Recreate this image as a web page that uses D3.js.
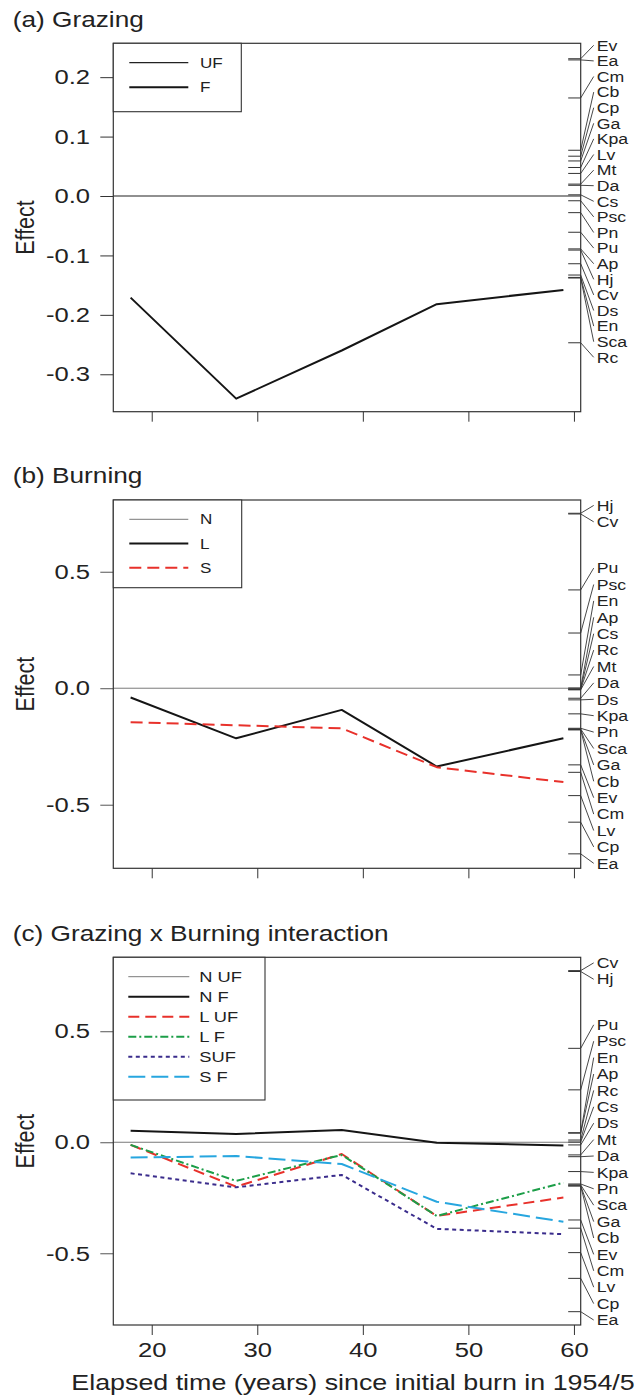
<!DOCTYPE html>
<html><head><meta charset="utf-8">
<script src="https://cdn.jsdelivr.net/npm/d3@7"></script>
<style>
body{margin:0;background:#fff}
svg{display:block}
text{font-family:"Liberation Sans",Arial,Helvetica,sans-serif;fill:#222}
</style>
</head><body><div id="chart"></div>
<script>
// ---------- data ----------
const years = [18, 28, 38, 47, 59];
const xTicks = [20, 30, 40, 50, 60];

// (a) Grazing: UF is the reference level (0)
const grazingF = [-0.171, -0.341, -0.260, -0.182, -0.158];
// (b) Burning: N is the reference level (0)
const burnL = [-0.040, -0.215, -0.093, -0.336, -0.215];
const burnS = [-0.146, -0.159, -0.172, -0.339, -0.403];
// (c) Grazing x Burning: N UF is the reference level (0)
const intNF  = [0.052, 0.037, 0.055, -0.002, -0.015];
const intLUF = [-0.012, -0.200, -0.053, -0.332, -0.249];
const intLF  = [-0.012, -0.174, -0.057, -0.332, -0.182];
const intSUF = [-0.140, -0.203, -0.147, -0.390, -0.414];
const intSF  = [-0.069, -0.062, -0.098, -0.268, -0.358];

// species effects shown on the right-hand side of each panel
const species            = ["Ap","Cb","Cm","Cp","Cs","Cv","Da","Ds","Ea","En","Ev","Ga","Hj","Kpa","Lv","Mt","Pn","Psc","Pu","Rc","Sca"];
const speciesGrazing     = [-0.089, 0.077, 0.165, 0.067, 0.002, -0.114, 0.018, -0.133, 0.229, -0.137, 0.231, 0.059, -0.091, 0.048, 0.038, 0.020, -0.028, -0.008, -0.061, -0.247, -0.138];
const speciesBurning     = [0.001, -0.179, -0.361, -0.575, -0.003, 0.748, -0.043, -0.050, -0.711, 0.057, -0.329, -0.177, 0.751, -0.110, -0.461, -0.007, -0.172, 0.237, 0.422, -0.005, -0.175];
const speciesInteraction = [0.041, -0.197, -0.387, -0.613, 0.001, 0.773, -0.065, -0.012, -0.763, 0.043, -0.350, -0.196, 0.769, -0.132, -0.497, -0.057, -0.188, 0.236, 0.423, 0.010, -0.192];

const yTicksA  = [-0.3, -0.2, -0.1, 0.0, 0.1, 0.2];
const yTicksBC = [-0.5, 0.0, 0.5];

const titles = ["(a) Grazing", "(b) Burning", "(c) Grazing x Burning interaction"];
const xTitle = "Elapsed time (years) since initial burn in 1954/5";
const yTitle = "Effect";

// ---------- layout / styles ----------
const W = 638, H = 1396;
const SX = 1.22; // horizontal stretch of the original figure's text
const left = 113.3, right = 580.7;
const col = {red:"#e8312b", green:"#1c9e48", purple:"#3a2c8c", cyan:"#27a6df", black:"#151515", grey:"#7a7a7a"};

const panels = [
  {top:43.3, bottom:411.7, dom:[-0.363, 0.257], ticks:yTicksA, title:titles[0], sp:speciesGrazing, gap:15.6,
   ref:{label:"UF", color:"#222", w:1.2},
   series:[{label:"F", values:grazingF, color:col.black, w:2, dash:null}],
   legend:{w:128, h:68.4, first:19.4, step:24.6, fs:14, x1:16, x2:75, tx:86.7}, xLabels:false},
  {top:500, bottom:868.3, dom:[-0.773, 0.808], ticks:yTicksBC, title:titles[1], sp:speciesBurning, gap:16.4,
   ref:{label:"N", color:col.grey, w:1},
   series:[{label:"L", values:burnL, color:col.black, w:2, dash:null},
           {label:"S", values:burnS, color:col.red, w:2, dash:"12,6"}],
   legend:{w:128.4, h:87.7, first:19.3, step:24.2, fs:14, x1:16, x2:75, tx:86.7}, xLabels:false},
  {top:957.3, bottom:1325, dom:[-0.823, 0.833], ticks:yTicksBC, title:titles[2], sp:speciesInteraction, gap:16.4,
   ref:{label:"N UF", color:col.grey, w:1},
   series:[{label:"N F", values:intNF, color:col.black, w:2, dash:null},
           {label:"L UF", values:intLUF, color:col.red, w:2, dash:"11,6"},
           {label:"L F", values:intLF, color:col.green, w:2, dash:"8,3,2,3"},
           {label:"SUF", values:intSUF, color:col.purple, w:2, dash:"4,3.5"},
           {label:"S F", values:intSF, color:col.cyan, w:2, dash:"17,6"}],
   legend:{w:151.7, h:142.7, first:19.4, step:20, fs:15, x1:15, x2:76, tx:86}, xLabels:true}
];

const svg = d3.select("#chart").append("svg").attr("width", W).attr("height", H);
svg.append("rect").attr("width", W).attr("height", H).attr("fill", "#fff");

const x = d3.scaleLinear().domain([16.36, 60.64]).range([left, right]);

function stext(g, px, py, str, fs, anchor) {
  return g.append("text")
    .attr("transform", `translate(${px},${py}) scale(${SX},1)`)
    .attr("text-anchor", anchor || "start")
    .style("font-size", fs + "px")
    .text(str);
}

// 1-D label spreading (ordered, minimum gap, least squares, bounded)
function spread(targets, gap, lo, hi) {
  const clusters = [];
  const pos = c => Math.max(lo, Math.min(hi - (c.n - 1) * gap, c.sum / c.n));
  targets.forEach((t, i) => {
    clusters.push({start:i, n:1, sum:t});
    while (clusters.length > 1) {
      const b = clusters[clusters.length - 1], a = clusters[clusters.length - 2];
      if (pos(a) + a.n * gap > pos(b) + 1e-9) {
        a.sum += b.sum - b.n * a.n * gap;
        a.n += b.n;
        clusters.pop();
      } else break;
    }
  });
  const out = [];
  clusters.forEach(c => { const p = pos(c); for (let k = 0; k < c.n; k++) out.push(p + k * gap); });
  return out;
}

panels.forEach((p, pi) => {
  const g = svg.append("g");
  const y = d3.scaleLinear().domain(p.dom).range([p.bottom, p.top]);

  // title
  stext(g, 12.7, p.top - 16.7, p.title, 21.5, "start");

  // y label
  g.append("text")
    .attr("transform", `translate(25,${(p.top + p.bottom) / 2}) scale(${SX},1) rotate(-90)`)
    .attr("text-anchor", "middle").attr("dy", "0.35em")
    .style("font-size", "21.5px").text(yTitle);

  // reference (zero) line
  g.append("line").attr("x1", left).attr("x2", right)
    .attr("y1", y(0)).attr("y2", y(0))
    .attr("stroke", p.ref.color).attr("stroke-width", p.ref.w);

  // data lines
  const line = d3.line().x((d, i) => x(years[i])).y(d => y(d));
  p.series.forEach(s => {
    g.append("path").datum(s.values).attr("d", line)
      .attr("fill", "none").attr("stroke", s.color).attr("stroke-width", s.w)
      .attr("stroke-dasharray", s.dash).attr("stroke-linejoin", "round");
  });

  // y axis
  const ya = g.append("g").attr("transform", `translate(${left},0)`)
    .call(d3.axisLeft(y).tickValues(p.ticks).tickSize(13).tickFormat(d => d.toFixed(1)));
  ya.select(".domain").remove();
  ya.selectAll(".tick line").attr("stroke", p.ref.color === col.grey ? "#555" : "#333");
  ya.selectAll(".tick text").attr("x", -23.3 / SX).attr("transform", `scale(${SX},1)`)
    .style("font-size", "21px").style("font-family", '"Liberation Sans",Arial,sans-serif').attr("fill", "#222");

  // x axis
  const xa = g.append("g").attr("transform", `translate(0,${p.bottom})`)
    .call(d3.axisBottom(x).tickValues(xTicks).tickSize(10).tickFormat(d => p.xLabels ? String(d) : ""));
  xa.select(".domain").remove();
  xa.selectAll(".tick line").attr("stroke", "#333");
  xa.selectAll(".tick text").attr("y", 16.7).attr("transform", `scale(${SX},1)`)
    .style("font-size", "21px").style("font-family", '"Liberation Sans",Arial,sans-serif').attr("fill", "#222");

  // species rug + leaders + labels
  const items = species.map((name, i) => ({name, v:p.sp[i], py:y(p.sp[i])}))
    .sort((a, b) => a.py - b.py);
  const labY = spread(items.map(d => d.py), p.gap, p.top + 2, p.bottom - 5);
  items.forEach((d, i) => {
    g.append("line").attr("x1", right - 12.5).attr("x2", right).attr("y1", d.py).attr("y2", d.py)
      .attr("stroke", "#333").attr("stroke-width", 1);
    g.append("line").attr("x1", right).attr("y1", d.py).attr("x2", right + 13).attr("y2", labY[i])
      .attr("stroke", "#333").attr("stroke-width", 0.9);
    stext(g, right + 16, labY[i] + 0.36 * 14.5, d.name, 14.5, "start");
  });

  // plot box
  g.append("rect").attr("x", left).attr("y", p.top)
    .attr("width", right - left).attr("height", p.bottom - p.top)
    .attr("fill", "none").attr("stroke", "#333").attr("stroke-width", 1.2);

  // legend
  const L = p.legend;
  const lg = g.append("g").attr("transform", `translate(${left},${p.top})`);
  lg.append("rect").attr("width", L.w).attr("height", L.h)
    .attr("fill", "#fff").attr("stroke", "#333").attr("stroke-width", 1.1);
  const entries = [{label:p.ref.label, color:p.ref.color, w:p.ref.w, dash:null}].concat(p.series);
  entries.forEach((e, i) => {
    const ly = L.first + i * L.step;
    lg.append("line").attr("x1", L.x1).attr("x2", L.x2).attr("y1", ly).attr("y2", ly)
      .attr("stroke", e.color).attr("stroke-width", e.w).attr("stroke-dasharray", e.dash);
    stext(lg, L.tx, ly + 0.36 * L.fs, e.label, L.fs, "start");
  });
});

// x title
stext(svg, 353, 1390, xTitle, 22, "middle");
</script>
</body></html>
